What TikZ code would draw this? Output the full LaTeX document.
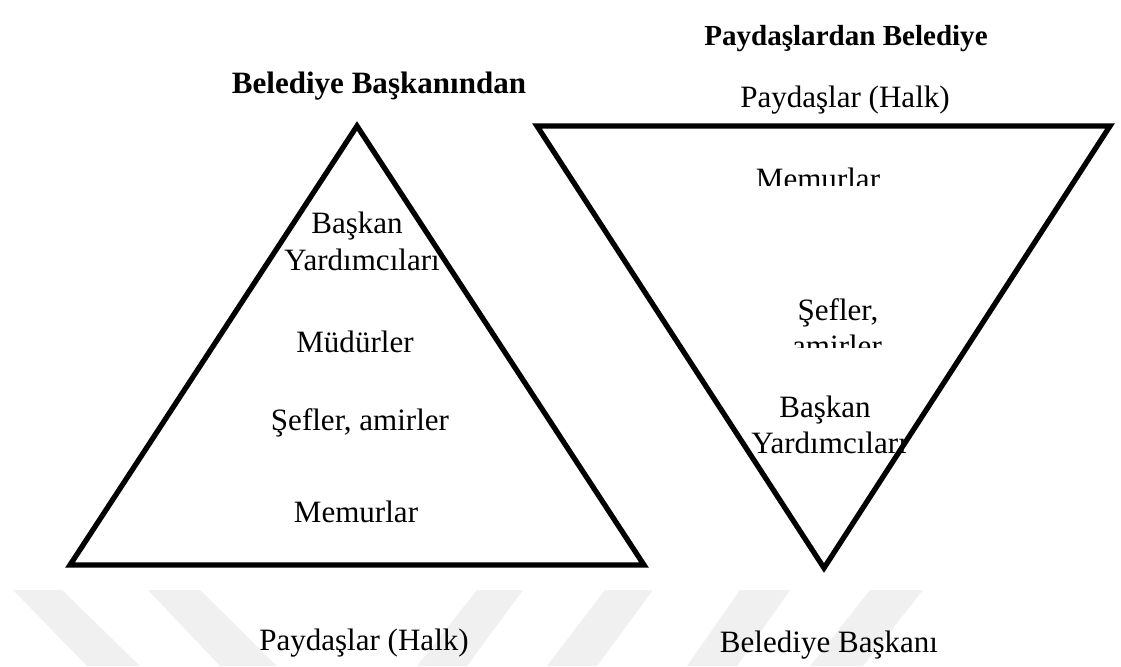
\documentclass[tikz,border=0pt]{standalone}
\usepackage{fontspec}
\setmainfont{Liberation Serif}
\usepackage{tikz}

\begin{document}
\begin{tikzpicture}[x=0.03cm, y=-0.03cm,
    tri/.style={line width=4.5pt},
    wmark/.style={fill=gray!12},
    lbl/.style={anchor=base, inner sep=0pt, font=\fontsize{26.5}{31}\selectfont},
    ttl/.style={anchor=base, inner sep=0pt, font=\fontsize{26.5}{31}\selectfont\bfseries}]
    \useasboundingbox (0,0) rectangle (1121,666);
    % faint watermark bands
    \fill[wmark] (13,590) -- (62,590) -- (140,666) -- (87,666) -- cycle;
    \fill[wmark] (148,590) -- (200,590) -- (277,666) -- (220,666) -- cycle;
    \fill[wmark] (477,590) -- (523,590) -- (467,666) -- (417,666) -- cycle;
    \fill[wmark] (605,590) -- (653,590) -- (597,666) -- (547,666) -- cycle;
    \fill[wmark] (740,590) -- (790,590) -- (737,666) -- (687,666) -- cycle;
    \fill[wmark] (870,590) -- (923,590) -- (863,666) -- (810,666) -- cycle;

    % left pyramid
    \node[ttl] (ltitle) at (379,93) {Belediye Başkanından};
    \draw[tri] (357,126) -- (70,565) -- (644,565) -- cycle;
    \node[lbl] (lbaskan) at (357,233) {Başkan};
    \node[lbl] (lyard) at (362,270) {Yardımcıları};
    \node[lbl] (lmudur) at (355,352) {Müdürler};
    \node[lbl] (lsef) at (360,430) {Şefler, amirler};
    \node[lbl] (lmemur) at (356,522) {Memurlar};
    \node[lbl] (lhalk) at (364,650) {Paydaşlar (Halk)};

    % right pyramid, upside down
    \node[ttl, font=\fontsize{24.8}{29}\selectfont\bfseries] (rtitle) at (846,45) {Paydaşlardan Belediye};
    \node[lbl] (rhalk) at (845,107) {Paydaşlar (Halk)};
    \draw[tri] (537,126) -- (1110,126) -- (824,568) -- cycle;
    \begin{scope}
        \clip (700,150) rectangle (950,185);
        \node[lbl] (rmemur) at (818,189) {Memurlar};
    \end{scope}
    \node[lbl] (rsef) at (838,320) {Şefler,};
    \begin{scope}
        \clip (700,330) rectangle (950,347);
        \node[lbl] (ramir) at (837,356) {amirler};
    \end{scope}
    \node[lbl] (rbaskan) at (825,417) {Başkan};
    \node[lbl] (ryard) at (829,453) {Yardımcıları};
    \node[lbl] (rbb) at (829,652) {Belediye Başkanı};
\end{tikzpicture}
\end{document}
